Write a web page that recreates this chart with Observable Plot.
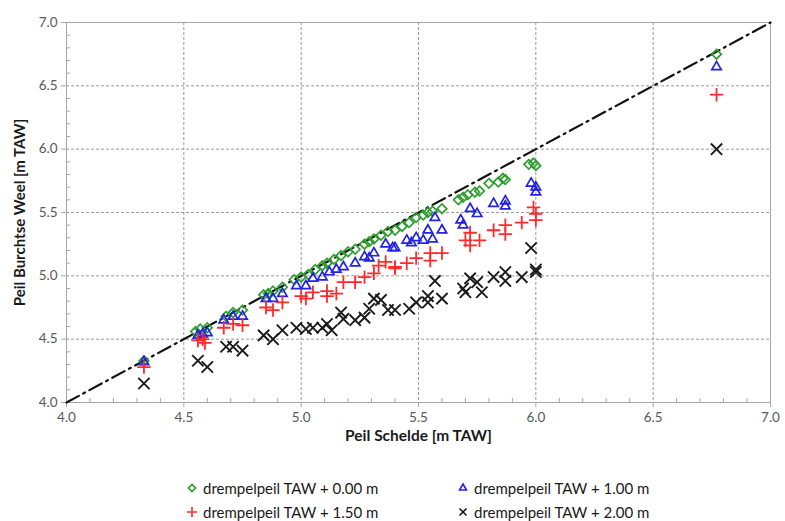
<!DOCTYPE html>
<html>
<head>
<meta charset="utf-8">
<script src="https://cdn.jsdelivr.net/npm/d3@7"></script>
<script src="https://cdn.jsdelivr.net/npm/@observablehq/plot@0.6"></script>
<style>
  html, body { margin: 0; padding: 0; background: #fff; }
  #wrap { position: relative; width: 785px; height: 521px; font-family: Lato, "Open Sans", sans-serif; }
  .leg { position: absolute; display: flex; align-items: center; font-size: 15px; color: #1a1a1a; white-space: nowrap; }
  .leg svg { margin-right: 4px; }
</style>
</head>
<body>
<div id="wrap"></div>
<script>
// ---- data ----
const greenX = [4.33,4.55,4.57,4.60,4.68,4.71,4.75,4.84,4.86,4.88,4.92,4.97,5.00,5.03,5.06,5.09,5.11,5.14,5.17,5.20,5.23,5.27,5.29,5.31,5.34,5.37,5.40,5.43,5.46,5.49,5.52,5.54,5.56,5.60,5.67,5.69,5.71,5.74,5.76,5.80,5.84,5.87,5.86,5.97,5.99,6.00,6.77];
const greenY = [4.33,4.56,4.58,4.59,4.68,4.71,4.73,4.85,4.86,4.88,4.91,4.97,4.99,5.01,5.05,5.08,5.10,5.13,5.16,5.19,5.21,5.25,5.27,5.29,5.32,5.35,5.36,5.39,5.42,5.46,5.48,5.50,5.51,5.53,5.60,5.62,5.64,5.66,5.67,5.73,5.74,5.76,5.77,5.88,5.89,5.87,6.75];

const blueX = [4.33,4.56,4.58,4.60,4.67,4.71,4.75,4.85,4.88,4.92,4.98,5.02,5.05,5.09,5.12,5.15,5.18,5.23,5.27,5.29,5.31,5.36,5.39,5.40,5.45,5.47,5.49,5.52,5.54,5.56,5.57,5.60,5.68,5.69,5.72,5.75,5.82,5.87,5.87,5.98,6.00,6.00,6.77];
const blueY = [4.32,4.53,4.54,4.55,4.65,4.68,4.68,4.82,4.82,4.86,4.92,4.92,4.98,4.99,5.03,5.05,5.07,5.10,5.15,5.14,5.18,5.25,5.22,5.22,5.28,5.26,5.30,5.28,5.36,5.29,5.46,5.36,5.44,5.40,5.53,5.49,5.57,5.59,5.55,5.73,5.70,5.66,6.65];

const redX = [4.33,4.56,4.58,4.59,4.67,4.71,4.75,4.85,4.88,4.92,5.00,5.02,5.05,5.11,5.11,5.15,5.18,5.23,5.27,5.31,5.33,5.36,5.40,5.40,5.45,5.49,5.55,5.55,5.60,5.70,5.72,5.72,5.76,5.82,5.87,5.87,5.94,5.99,6.00,6.00,6.77];
const redY = [4.28,4.49,4.50,4.47,4.59,4.62,4.61,4.75,4.73,4.79,4.84,4.82,4.87,4.88,4.84,4.86,4.95,4.95,4.99,5.02,5.08,5.11,5.06,5.07,5.10,5.14,5.18,5.12,5.18,5.28,5.24,5.34,5.28,5.36,5.40,5.33,5.42,5.54,5.49,5.44,6.43];

const blackX = [4.33,4.56,4.60,4.68,4.71,4.75,4.84,4.88,4.92,4.98,5.02,5.05,5.09,5.11,5.13,5.17,5.18,5.23,5.27,5.29,5.31,5.34,5.37,5.40,5.46,5.49,5.54,5.54,5.57,5.60,5.69,5.70,5.72,5.75,5.77,5.82,5.87,5.87,5.94,5.98,6.00,6.00,6.77];
const blackY = [4.15,4.33,4.28,4.44,4.44,4.41,4.53,4.50,4.57,4.59,4.58,4.59,4.59,4.62,4.57,4.71,4.66,4.65,4.67,4.74,4.82,4.81,4.73,4.73,4.74,4.79,4.84,4.79,4.96,4.82,4.90,4.87,4.98,4.95,4.87,4.99,5.03,4.96,4.99,5.22,5.03,5.05,6.00];

const majorTicks = [4.0,4.5,5.0,5.5,6.0,6.5,7.0];
const minorTicks = d3.range(40, 71).map(v => v / 10).filter(v => Math.round(v * 10) % 5 !== 0);
const diagonal = [4, 7];

const seriesNames = ["drempelpeil TAW + 0.00 m","drempelpeil TAW + 1.00 m","drempelpeil TAW + 1.50 m","drempelpeil TAW + 2.00 m"];
const seriesColors = ["#2e9e2e","#2222e6","#ff2a2a","#1a1a1a"];
const seriesSymbols = ["diamond2","triangle2","plus","times"];
const seriesR = [4.3, 4.5, 4.4, 5.2];
const seriesW = [1.7, 1.7, 1.8, 1.9];

const toRows = (xs, ys) => xs.map((x, i) => ({x, y: ys[i]}));
const series = [
  toRows(greenX, greenY),
  toRows(blueX, blueY),
  toRows(redX, redY),
  toRows(blackX, blackY)
];

const dots = series.map((rows, i) => Plot.dot(rows, {
  x: "x", y: "y", symbol: () => seriesSymbols[i], r: seriesR[i],
  stroke: seriesColors[i], fill: "none", strokeWidth: seriesW[i]
}));

const chart = Plot.plot({
  width: 785, height: 455,
  marginLeft: 66, marginRight: 15, marginTop: 22, marginBottom: 53,
  x: {domain: [4, 7]},
  y: {domain: [4, 7]},
  symbol: {domain: seriesSymbols, range: seriesSymbols},
  style: {fontFamily: "Lato, 'Open Sans', sans-serif", fontSize: "13.5px", color: "#595959", background: "#fff"},
  marks: [
    Plot.gridX(majorTicks.slice(1, -1), {stroke: "#9a9a9a", strokeOpacity: 1, strokeDasharray: "3,2"}),
    Plot.gridY(majorTicks.slice(1, -1), {stroke: "#9a9a9a", strokeOpacity: 1, strokeDasharray: "3,2"}),
    Plot.frame({stroke: "#a6a6a6"}),
    Plot.axisX(majorTicks, {tickFormat: d => d.toFixed(1), tickSize: 5, tickPadding: 5, stroke: "#a6a6a6", fill: "#595959", label: null}),
    Plot.axisY(majorTicks, {tickFormat: d => d.toFixed(1), tickSize: 5, tickPadding: 4, stroke: "#a6a6a6", fill: "#595959", label: null}),
    Plot.axisX(minorTicks, {tickFormat: () => "", tickSize: -4, stroke: "#a6a6a6", label: null}),
    Plot.axisY(minorTicks, {tickFormat: () => "", tickSize: -4, stroke: "#a6a6a6", label: null}),
    Plot.line(diagonal, {x: d => d, y: d => d, stroke: "#111", strokeWidth: 2.2, strokeDasharray: "14,5,2,5"}),
    ...dots,
    Plot.text(["Peil Schelde [m TAW]"], {frameAnchor: "bottom", dy: 38, fontWeight: "bold", fontSize: 15.5, fill: "#1a1a1a"}),
    Plot.text(["Peil Burchtse Weel [m TAW]"], {frameAnchor: "left", textAnchor: "middle", dx: -46, rotate: -90, fontWeight: "bold", fontSize: 15, fill: "#1a1a1a"})
  ]
});

const wrap = document.getElementById("wrap");
wrap.appendChild(chart);

// ---- legend (HTML, below the svg) ----
const legPos = [[185, 476], [456, 476], [185, 500], [456, 500]];
seriesNames.forEach((name, i) => {
  const div = document.createElement("div");
  div.className = "leg";
  div.style.left = legPos[i][0] + "px";
  div.style.top = legPos[i][1] + "px";
  div.style.height = "24px";
  const s = d3.create("svg").attr("width", 14).attr("height", 14);
  const sym = Plot.scale({symbol: {domain: seriesSymbols, range: seriesSymbols}}).apply(seriesSymbols[i]);
  s.append("path")
    .attr("transform", "translate(7,7)")
    .attr("d", d3.symbol(sym, Math.PI * 3.3 * 3.3)())
    .attr("fill", "none").attr("stroke", seriesColors[i]).attr("stroke-width", 1.6);
  div.appendChild(s.node());
  const t = document.createElement("span");
  t.textContent = name;
  div.appendChild(t);
  wrap.appendChild(div);
});
</script>
</body>
</html>
